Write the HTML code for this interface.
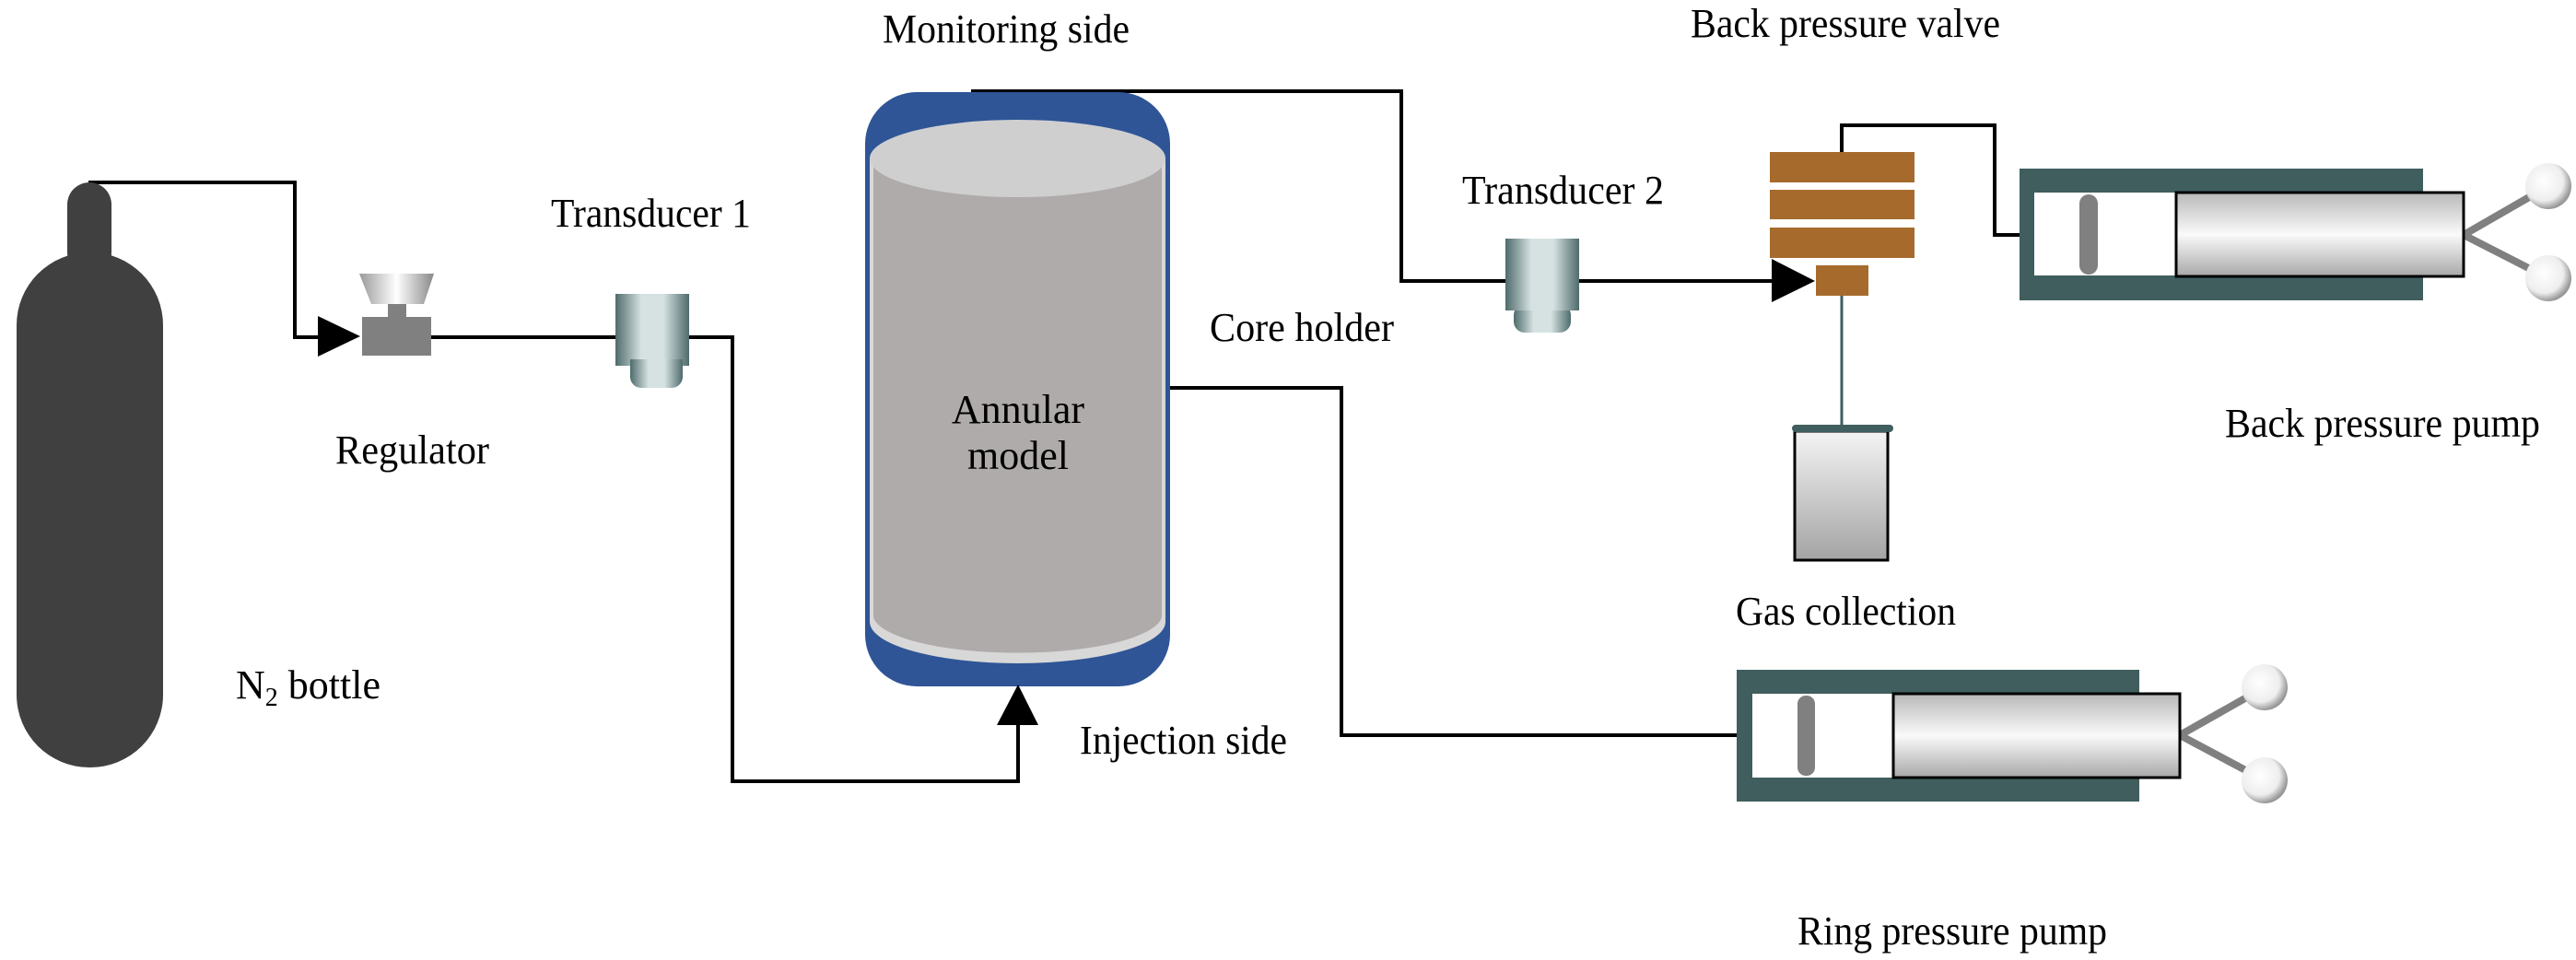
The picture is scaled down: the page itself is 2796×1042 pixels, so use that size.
<!DOCTYPE html>
<html><head><meta charset="utf-8"><style>html,body{margin:0;padding:0;background:#fff}svg{display:block}</style></head>
<body>
<svg width="2796" height="1042" viewBox="0 0 2796 1042" xmlns="http://www.w3.org/2000/svg">
<defs>
<linearGradient id="tr" x1="0" x2="1" y1="0" y2="0"><stop offset="0" stop-color="#4f6b6b"/><stop offset="0.35" stop-color="#d6e2e2"/><stop offset="0.65" stop-color="#d6e2e2"/><stop offset="1" stop-color="#4f6b6b"/></linearGradient>
<linearGradient id="fun" x1="0" x2="1"><stop offset="0" stop-color="#999"/><stop offset="0.5" stop-color="#fff"/><stop offset="1" stop-color="#888"/></linearGradient>
<linearGradient id="cyl" x1="0" x2="0" y1="0" y2="1"><stop offset="0" stop-color="#b8b8b8"/><stop offset="0.5" stop-color="#fafafa"/><stop offset="1" stop-color="#a8a8a8"/></linearGradient>
<linearGradient id="jar" x1="0" x2="0" y1="0" y2="1"><stop offset="0" stop-color="#f4f4f4"/><stop offset="1" stop-color="#a4a4a4"/></linearGradient>
<radialGradient id="ball" cx="0.4" cy="0.4" r="0.6"><stop offset="0" stop-color="#fff"/><stop offset="0.7" stop-color="#eee"/><stop offset="1" stop-color="#999"/></radialGradient>
</defs>
<g fill="none" stroke="#000" stroke-width="4">
<polyline points="96,198 320,198 320,366 350,366"/>
<line x1="468" y1="366" x2="668" y2="366"/>
<polyline points="748,366 795,366 795,848 1105,848 1105,785"/>
<polyline points="1054,99 1521,99 1521,305 1634,305"/>
<line x1="1714" y1="305" x2="1925" y2="305"/>
<polyline points="1999,165 1999,136 2165,136 2165,255 2193,255"/>
<polyline points="1270,421 1456,421 1456,798 1887,798"/>
</g>
<rect x="73" y="198" width="48" height="100" rx="24" fill="#404040"/>
<rect x="18" y="274" width="159" height="559" rx="79" fill="#404040"/>
<polygon points="345,343 391,365 345,387" fill="#000"/>
<polygon points="390,297 471,297 460,330 403,330" fill="url(#fun)"/>
<rect x="421" y="330" width="20" height="16" fill="#808080"/>
<rect x="393" y="344" width="75" height="42" fill="#808080"/>
<rect x="684" y="390" width="57" height="31" rx="12" fill="url(#tr)"/>
<rect x="668" y="319" width="80" height="78" fill="url(#tr)"/>
<rect x="684" y="390" width="57" height="20" fill="url(#tr)"/>
<rect x="939" y="100" width="331" height="645" rx="56" fill="#2f5597"/>
<path d="M944,172 L944,675 A160.5,45 0 0 0 1265,675 L1265,172 Z" fill="#d8d8d8"/>
<path d="M948,180 L948,670 A157,42 0 0 0 1261,670 L1261,180 Z" fill="#afabaa"/>
<ellipse cx="1104.5" cy="172" rx="160.5" ry="42" fill="#d0cfd0"/>
<polygon points="1082,787 1105,743 1127,787" fill="#000"/>
<rect x="1643" y="330" width="62" height="31" rx="12" fill="url(#tr)"/>
<rect x="1634" y="259" width="80" height="78" fill="url(#tr)"/>
<rect x="1921" y="165" width="157" height="33" fill="#a66b2c"/>
<rect x="1921" y="206" width="157" height="32" fill="#a66b2c"/>
<rect x="1921" y="247" width="157" height="33" fill="#a66b2c"/>
<polygon points="1923,281 1970,305 1923,328" fill="#000"/>
<rect x="1971" y="288" width="57" height="33" fill="#a66b2c"/>
<line x1="1999" y1="321" x2="1999" y2="462" stroke="#405e5e" stroke-width="3"/>
<rect x="1948" y="468" width="101" height="140" fill="url(#jar)" stroke="#000" stroke-width="3"/>
<rect x="1945" y="461" width="110" height="8" rx="4" fill="#405e5e"/>
<rect x="2192" y="183" width="438" height="143" fill="#405e5e"/>
<rect x="2208" y="209" width="154" height="90" fill="#fff"/>
<rect x="2257" y="211" width="20" height="87" rx="10" fill="#808080"/>
<line x1="2674" y1="255" x2="2766" y2="202" stroke="#808080" stroke-width="8"/>
<line x1="2674" y1="255" x2="2766" y2="302" stroke="#808080" stroke-width="8"/>
<rect x="2362" y="209" width="312" height="91" fill="url(#cyl)" stroke="#000" stroke-width="3"/>
<circle cx="2766" cy="202" r="25" fill="url(#ball)"/>
<circle cx="2766" cy="302" r="25" fill="url(#ball)"/>
<rect x="1885" y="727" width="437" height="143" fill="#405e5e"/>
<rect x="1902" y="753" width="153" height="91" fill="#fff"/>
<rect x="1951" y="755" width="19" height="87" rx="9" fill="#808080"/>
<line x1="2366" y1="798" x2="2458" y2="746" stroke="#808080" stroke-width="8"/>
<line x1="2366" y1="798" x2="2458" y2="847" stroke="#808080" stroke-width="8"/>
<rect x="2055" y="753" width="311" height="91" fill="url(#cyl)" stroke="#000" stroke-width="3"/>
<circle cx="2458" cy="746" r="25" fill="url(#ball)"/>
<circle cx="2458" cy="847" r="25" fill="url(#ball)"/>
<g fill="#000" font-family="'Liberation Serif', 'DejaVu Serif', serif" font-size="44">
<text x="1105" y="459" text-anchor="middle">Annular</text>
<text x="1105" y="509" text-anchor="middle">model</text>
<text x="958" y="46" textLength="268" lengthAdjust="spacingAndGlyphs">Monitoring side</text>
<text x="598" y="246" textLength="217" lengthAdjust="spacingAndGlyphs">Transducer 1</text>
<text x="364" y="503" textLength="167" lengthAdjust="spacingAndGlyphs">Regulator</text>
<text x="256" y="758">N<tspan font-size="28" dy="8">2</tspan><tspan dy="-8"> bottle</tspan></text>
<text x="1313" y="370" textLength="200" lengthAdjust="spacingAndGlyphs">Core holder</text>
<text x="1172" y="818" textLength="225" lengthAdjust="spacingAndGlyphs">Injection side</text>
<text x="1835" y="40" textLength="336" lengthAdjust="spacingAndGlyphs">Back pressure valve</text>
<text x="1587" y="221" textLength="219" lengthAdjust="spacingAndGlyphs">Transducer 2</text>
<text x="2415" y="474" textLength="342" lengthAdjust="spacingAndGlyphs">Back pressure pump</text>
<text x="1884" y="678" textLength="239" lengthAdjust="spacingAndGlyphs">Gas collection</text>
<text x="1951" y="1025" textLength="336" lengthAdjust="spacingAndGlyphs">Ring pressure pump</text>
</g>
</svg>
</body></html>
